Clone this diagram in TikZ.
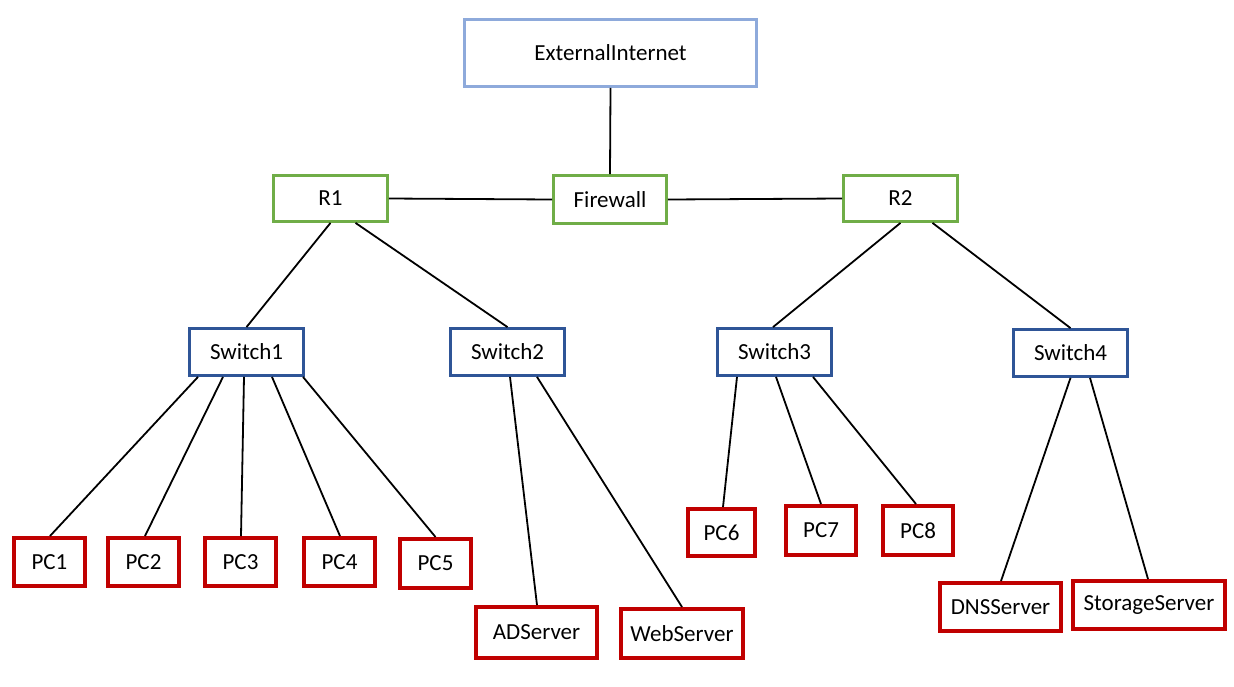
\documentclass[tikz,border=0pt]{standalone}
\usepackage{fontspec}
\setmainfont{Carlito}
\definecolor{extblue}{HTML}{8EAADB}
\definecolor{rgreen}{HTML}{70AD47}
\definecolor{swblue}{HTML}{2F5597}
\definecolor{pcred}{HTML}{C00000}
\begin{document}
\begin{tikzpicture}[x=1pt,y=-1pt,
  box/.style={draw, rectangle, fill=white, inner sep=0pt, font=\fontsize{23}{27}\selectfont},
  extbox/.style={box, draw=extblue, line width=2.8pt},
  rbox/.style={box, draw=rgreen, line width=2.8pt},
  swbox/.style={box, draw=swblue, line width=2.8pt},
  pcbox/.style={box, draw=pcred, line width=3.6pt},
  link/.style={draw=black, line width=1.8pt}]
\useasboundingbox[fill=white] (0,0) rectangle (1234,686);
% nodes: minimum size = outer size - line width
\node[extbox, minimum width=292pt, minimum height=67pt] (ext) at (610.5,53) {ExternalInternet};
\node[rbox, minimum width=113pt, minimum height=48pt] (fw) at (610,199.5) {Firewall};
\node[rbox, minimum width=114pt, minimum height=46pt] (r1) at (330.5,198.5) {R1};
\node[rbox, minimum width=114pt, minimum height=46pt] (r2) at (900.5,198.5) {R2};
\node[swbox, minimum width=114pt, minimum height=47pt] (sw1) at (246.5,352) {Switch1};
\node[swbox, minimum width=114pt, minimum height=47pt] (sw2) at (507.5,352) {Switch2};
\node[swbox, minimum width=114pt, minimum height=47pt] (sw3) at (774.5,352) {Switch3};
\node[swbox, minimum width=114pt, minimum height=47pt] (sw4) at (1070.5,353) {Switch4};
\node[pcbox, minimum width=71.4pt, minimum height=48.4pt] (pc1) at (49.5,562) {PC1};
\node[pcbox, minimum width=71.4pt, minimum height=48.4pt] (pc2) at (143.5,562) {PC2};
\node[pcbox, minimum width=71.4pt, minimum height=48.4pt] (pc3) at (240.5,562) {PC3};
\node[pcbox, minimum width=71.4pt, minimum height=48.4pt] (pc4) at (339.5,562) {PC4};
\node[pcbox, minimum width=71.4pt, minimum height=49.4pt] (pc5) at (435.5,563.5) {PC5};
\node[pcbox, minimum width=121.4pt, minimum height=51.4pt] (ad) at (536.5,632.5) {ADServer};
\node[pcbox, minimum width=122.4pt, minimum height=49.4pt] (web) at (682,633.5) {WebServer};
\node[pcbox, minimum width=67.4pt, minimum height=47.4pt] (pc6) at (721.5,532.5) {PC6};
\node[pcbox, minimum width=70.4pt, minimum height=49.4pt] (pc7) at (821,530.5) {PC7};
\node[pcbox, minimum width=70.4pt, minimum height=49.4pt] (pc8) at (918,530.5) {PC8};
\node[pcbox, minimum width=121.4pt, minimum height=48.4pt] (dns) at (1000.5,607) {DNSServer};
\node[pcbox, minimum width=152.4pt, minimum height=48.4pt] (st) at (1149,605) {StorageServer};
% links
\path[link] (ext.south) -- (fw.north);
\path[link] (r1.east) -- (fw.west);
\path[link] (fw.east) -- (r2.west);
\path[link] (r1.south) -- (sw1.north);
\path[link] ([xshift=25pt]r1.south) -- (sw2.north);
\path[link] (r2.south) -- ([xshift=-1.5pt]sw3.north);
\path[link] ([xshift=32pt]r2.south) -- (sw4.north);
\path[link] ([xshift=-48.5pt]sw1.south) -- ([xshift=0.5pt]pc1.north);
\path[link] ([xshift=-23.5pt]sw1.south) -- ([xshift=1.5pt]pc2.north);
\path[link] ([xshift=-2.5pt]sw1.south) -- ([xshift=0.5pt]pc3.north);
\path[link] ([xshift=25.5pt]sw1.south) -- ([xshift=0.5pt]pc4.north);
\path[link] ([xshift=56.5pt]sw1.south) -- (pc5.north);
\path[link] ([xshift=2.5pt]sw2.south) -- ([xshift=0.5pt]ad.north);
\path[link] ([xshift=29.5pt]sw2.south) -- (web.north);
\path[link] ([xshift=-37.5pt]sw3.south) -- ([xshift=1.5pt]pc6.north);
\path[link] ([xshift=1.5pt]sw3.south) -- (pc7.north);
\path[link] ([xshift=38.5pt]sw3.south) -- ([xshift=-2pt]pc8.north);
\path[link] (sw4.south) -- ([xshift=0.5pt]dns.north);
\path[link] ([xshift=19.5pt]sw4.south) -- ([xshift=-1pt]st.north);
\end{tikzpicture}
\end{document}
